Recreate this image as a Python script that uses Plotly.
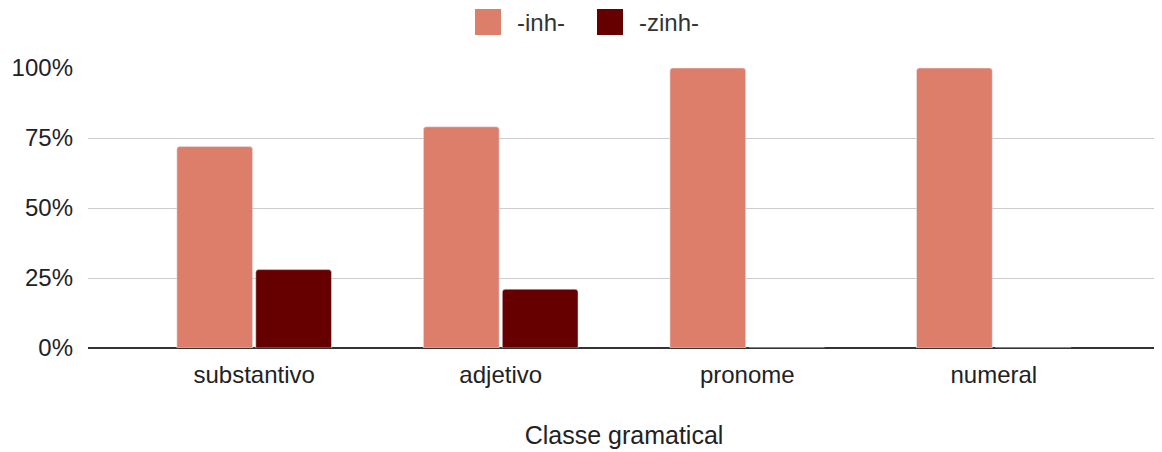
import plotly.graph_objects as go

# data
categorias = ["substantivo", "adjetivo", "pronome", "numeral"]
inh = [0.72, 0.79, 1.0, 1.0]
zinh = [0.28, 0.21, 0.0, 0.0]
series = ["-inh-", "-zinh-"]

cor_inh = "#dd7e6b"
cor_zinh = "#660000"
fonte = "Liberation Sans, Arial, sans-serif"

fig = go.Figure()
fig.add_trace(go.Bar(x=categorias, y=inh, name=series[0], marker_color=cor_inh,
                     marker_cornerradius=3))
fig.add_trace(go.Bar(x=categorias, y=zinh, name=series[1], marker_color=cor_zinh,
                     marker_cornerradius=3))

# sheets-style legend with big squares (plotly caps legend symbols at 16px)
legenda = [(series[0], cor_inh, -149), (series[1], cor_zinh, -27)]
for nome, cor, dx in legenda:
    fig.add_shape(type="rect", xref="paper", yref="paper", xsizemode="pixel", ysizemode="pixel",
                  xanchor=0.5, yanchor=1, x0=dx, x1=dx + 26, y0=33, y1=59,
                  fillcolor=cor, line_width=0)
    fig.add_annotation(text=nome, xref="paper", yref="paper", x=0.5, y=1,
                       xshift=dx + 40, yshift=46, xanchor="left", yanchor="middle",
                       showarrow=False, font=dict(size=24, color="#333333"))

fig.update_layout(
    width=1162, height=452,
    margin=dict(l=80, r=10, t=60, b=112, autoexpand=False),
    paper_bgcolor="white", plot_bgcolor="white",
    font=dict(family=fonte, size=24, color="#222222"),
    barmode="group", bargap=0.36, bargroupgap=0.04,
    showlegend=False,
    xaxis=dict(title=dict(text="Classe gramatical", standoff=39, font=dict(size=25)),
               range=[-0.674, 3.674], showgrid=False, ticks="", ticklabelstandoff=10),
    yaxis=dict(range=[0, 1.0], tickformat=".0%", tickvals=[0, 0.25, 0.5, 0.75, 1.0],
               gridcolor="#cccccc", zeroline=True, zerolinecolor="#333333", zerolinewidth=1.5,
               ticks="", ticklabelstandoff=14),
)

fig.write_html("out.html")
